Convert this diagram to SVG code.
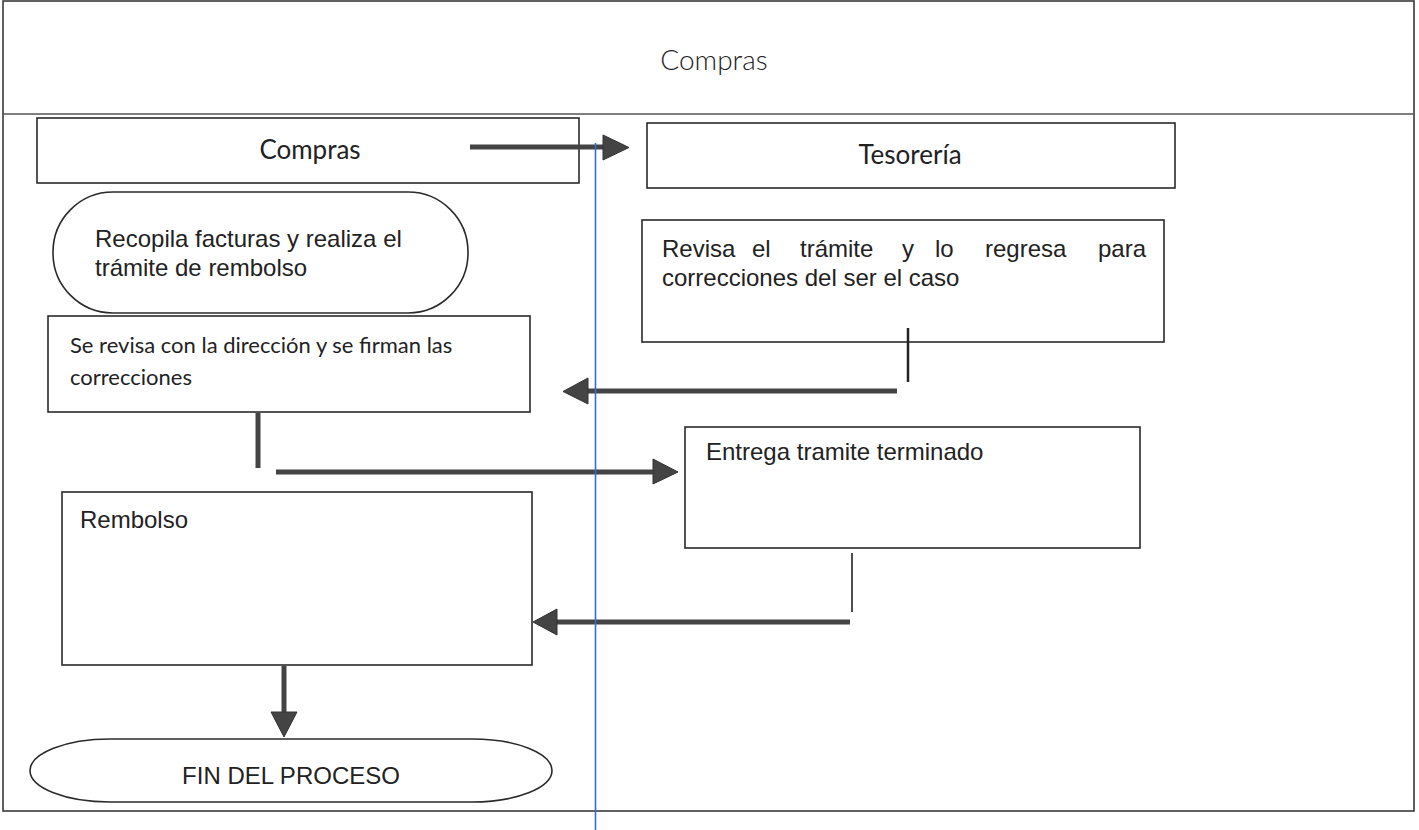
<svg xmlns="http://www.w3.org/2000/svg" width="1419" height="830" viewBox="0 0 1419 830">
<defs>
<style>
.frame{fill:none;stroke:#3a3a3a;stroke-width:1.6}
.box{fill:#fff;stroke:#2a2a2a;stroke-width:1.6}
.cal{font-family:Lato,"Open Sans","Liberation Sans",sans-serif;fill:#222}
.ari{font-family:"Liberation Sans",Arial,sans-serif;fill:#222}
.thick{stroke:#444;stroke-width:5;fill:none}
.thin{stroke:#222;stroke-width:2.5;fill:none}
.head{fill:#444;stroke:#333;stroke-width:1}
</style>
</defs>
<rect width="1419" height="830" fill="#fff"/>
<g id="frame">
<rect class="frame" x="3" y="1" width="1411" height="810"/>
<line x1="3" y1="114" x2="1414" y2="114" stroke="#555" stroke-width="1.4"/>
<text class="cal" x="714" y="70" font-size="28" font-weight="300" text-anchor="middle">Compras</text>
</g>
<g id="lane-compras">
<rect class="box" x="37" y="118" width="542" height="65"/>
<text class="cal" x="310" y="159" font-size="26" text-anchor="middle">Compras</text>
</g>
<g id="lane-tesoreria">
<rect class="box" x="647" y="123" width="528" height="65"/>
<text class="cal" x="910" y="164" font-size="26" text-anchor="middle">Tesorería</text>
</g>
<g id="recopila">
<rect class="box" x="53" y="192" width="415" height="121" rx="60" ry="60"/>
<text class="ari" font-size="24"><tspan x="95" y="247">Recopila facturas y realiza el</tspan><tspan x="95" y="276">trámite de rembolso</tspan></text>
</g>
<g id="revisa">
<rect class="box" x="642" y="220" width="522" height="122"/>
<text class="ari" font-size="24"><tspan x="662" y="257">Revisa</tspan><tspan x="752" y="257">el</tspan><tspan x="800" y="257">trámite</tspan><tspan x="902" y="257">y</tspan><tspan x="935" y="257">lo</tspan><tspan x="985" y="257">regresa</tspan><tspan x="1098" y="257">para</tspan><tspan x="662" y="286">correcciones del ser el caso</tspan></text>
</g>
<g id="se-revisa">
<rect class="box" x="48" y="316" width="482" height="96"/>
<text class="cal" font-size="22"><tspan x="70" y="353">Se revisa con la dirección y se firman las</tspan><tspan x="70" y="385">correcciones</tspan></text>
</g>
<g id="entrega">
<rect class="box" x="685" y="427" width="455" height="121"/>
<text class="ari" font-size="24"><tspan x="706" y="460">Entrega tramite terminado</tspan></text>
</g>
<g id="rembolso">
<rect class="box" x="62" y="492" width="470" height="173"/>
<text class="ari" font-size="24"><tspan x="80" y="528">Rembolso</tspan></text>
</g>
<g id="fin">
<rect class="box" x="30" y="739" width="522" height="63" rx="80" ry="31.5"/>
<text class="ari" x="291" y="784" font-size="24" text-anchor="middle">FIN DEL PROCESO</text>
</g>
<g id="connectors">
<line x1="470" y1="147" x2="604" y2="147" class="thick"/>
<polygon class="head" points="603,135 629,147.5 603,160"/>
<line x1="908" y1="328" x2="908" y2="382" class="thin"/>
<line x1="897" y1="391" x2="586" y2="391" class="thick"/>
<polygon class="head" points="588,378 563,391.5 588,404"/>
<line x1="258" y1="413" x2="258" y2="468" class="thick"/>
<line x1="276" y1="472" x2="655" y2="472" class="thick"/>
<polygon class="head" points="653,459 678,472 653,484"/>
<line x1="852" y1="553" x2="852" y2="612" stroke="#222" stroke-width="1.6"/>
<line x1="850" y1="622" x2="555" y2="622" class="thick"/>
<polygon class="head" points="557,609 533,622 557,635"/>
<line x1="284" y1="666" x2="284" y2="714" class="thick"/>
<polygon class="head" points="271,712 284,737 297,712"/>
<line x1="595.5" y1="143" x2="595.5" y2="830" stroke="#2f6fd0" stroke-width="1.6"/>
</g>
</svg>
